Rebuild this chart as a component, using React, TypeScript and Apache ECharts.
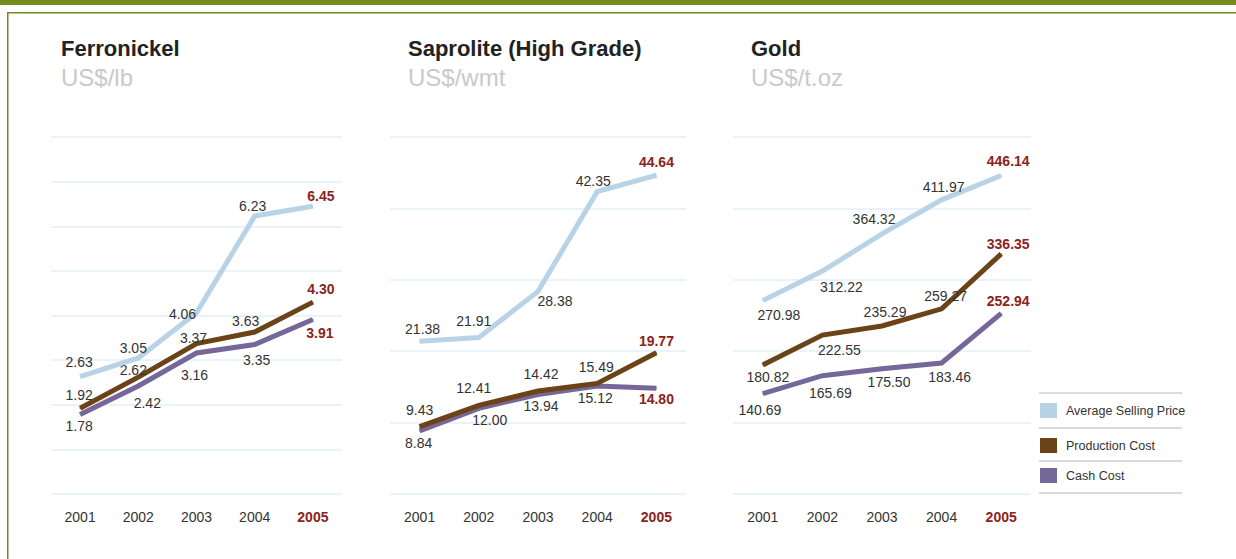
import React, { useEffect, useRef } from "react";
import * as echarts from "echarts";

const years = ["2001", "2002", "2003", "2004", "2005"];
const seriesNames = ["Average Selling Price", "Production Cost", "Cash Cost"];

const chartTitles = ["Ferronickel", "Saprolite (High Grade)", "Gold"];
const chartUnits = ["US$/lb", "US$/wmt", "US$/t.oz"];

// Ferronickel (US$/lb)
const feAsp = [2.63, 3.05, 4.06, 6.23, 6.45];
const feProd = [1.92, 2.62, 3.37, 3.63, 4.3];
const feCash = [1.78, 2.42, 3.16, 3.35, 3.91];

// Saprolite High Grade (US$/wmt)
const saAsp = [21.38, 21.91, 28.38, 42.35, 44.64];
const saProd = [9.43, 12.41, 14.42, 15.49, 19.77];
const saCash = [8.84, 12.0, 13.94, 15.12, 14.8];

// Gold (US$/t.oz)
const auAsp = [270.98, 312.22, 364.32, 411.97, 446.14];
const auProd = [180.82, 222.55, 235.29, 259.27, 336.35];
const auCash = [140.69, 165.69, 175.5, 183.46, 252.94];

// Axis ranges
const axisMax = [8, 50, 500];
const axisInterval = [1, 10, 100];

// Label placement (layout only): [dx, dy] from each point
const feOffsets = [
  [[-1, -15], [-5, -10], [-14, 1], [-2, -10], [8, -10]],
  [[-1, -13], [-5, -7], [-3, -6], [-9, -11], [8, -13]],
  [[-1, 11], [9, 17], [-2, 22], [2, 15], [7, 13]],
];
const saOffsets = [
  [[3, -12], [-5, -17], [17, 10], [-4, -11], [0, -13]],
  [[0, -17], [-5, -17], [3, -17], [-1, -16], [0, -12]],
  [[-1, 12], [11, 12], [3, 12], [-2, 12], [0, 11]],
];
const auOffsets = [
  [[16, 14], [19, 16], [-8, -15], [2, -13], [7, -14]],
  [[5, 12], [17, 15], [3, -14], [4, -13], [7, -10]],
  [[-3, 16], [8, 17], [7, 13], [8, 14], [7, -12]],
];

const COLORS = ["#b8d2e6", "#6b4317", "#75679a"];
const RED = "#8b2320";
const OLIVE = "#758a1f";
const FONT = "'Liberation Sans', Arial, sans-serif";

const grids = [
  { left: 51, top: 137, width: 291, height: 357 },
  { left: 390, top: 137, width: 296, height: 357 },
  { left: 733, top: 137, width: 298, height: 357 },
];
const titleX = [61, 408, 751];

export default function App() {
  const ref = useRef<HTMLDivElement>(null);
  useEffect(() => {
    if (!ref.current) return;
    const chart = echarts.init(ref.current, null, { renderer: "svg" });
    const datasets = [
      [feAsp, feProd, feCash],
      [saAsp, saProd, saCash],
      [auAsp, auProd, auCash],
    ];
    const offsets = [feOffsets, saOffsets, auOffsets];

    const series: any[] = [];
    datasets.forEach((group, gi) => {
      group.forEach((vals, si) => {
        series.push({
          type: "line",
          name: seriesNames[si],
          xAxisIndex: gi,
          yAxisIndex: gi,
          symbol: "circle",
          symbolSize: 1,
          lineStyle: { color: COLORS[si], width: 5, cap: "butt", join: "miter" },
          itemStyle: { color: COLORS[si] },
          z: 3 - si + 2,
          data: vals.map((v, i) => ({
            value: v,
            label: {
              show: true,
              position: "inside",
              offset: offsets[gi][si][i],
              formatter: v.toFixed(2),
              fontFamily: FONT,
              fontSize: 14,
              color: i === 4 ? RED : "#333",
              fontWeight: i === 4 ? "bold" : "normal",
            },
          })),
        });
      });
    });

    const graphic: any[] = [
      { type: "rect", shape: { x: 0, y: 0, width: 1236, height: 5 }, style: { fill: OLIVE } },
      { type: "rect", shape: { x: 7, y: 12, width: 1229, height: 1.5 }, style: { fill: OLIVE } },
      { type: "rect", shape: { x: 7, y: 12, width: 1.5, height: 547 }, style: { fill: OLIVE } },
    ];
    chartTitles.forEach((t, i) => {
      graphic.push({
        type: "text",
        x: titleX[i],
        y: 48,
        style: {
          text: t,
          fill: "#222",
          font: `bold 22px ${FONT}`,
          verticalAlign: "middle",
        },
      });
      graphic.push({
        type: "text",
        x: titleX[i],
        y: 77,
        style: {
          text: chartUnits[i],
          fill: "#c9c9ce",
          font: `24px ${FONT}`,
          verticalAlign: "middle",
        },
      });
    });
    // legend
    const legLines = [393, 428, 461, 493];
    legLines.forEach((y) =>
      graphic.push({
        type: "line",
        shape: { x1: 1039, y1: y, x2: 1182, y2: y },
        style: { stroke: "#cfcfcf", lineWidth: 1.5 },
      })
    );
    const legY = [411, 446, 476];
    seriesNames.forEach((n, i) => {
      graphic.push({
        type: "rect",
        shape: { x: 1040, y: legY[i] - 8, width: 17, height: 15 },
        style: { fill: COLORS[i] },
      });
      graphic.push({
        type: "text",
        x: 1066,
        y: legY[i],
        style: { text: n, fill: "#333", font: `12.5px ${FONT}`, verticalAlign: "middle" },
      });
    });

    chart.setOption({
      animation: false,
      backgroundColor: "#fff",
      grid: grids.map((g) => ({ ...g, containLabel: false })),
      xAxis: grids.map((_, i) => ({
        type: "category",
        gridIndex: i,
        data: years,
        boundaryGap: true,
        axisLine: { show: false },
        axisTick: { show: false },
        axisLabel: {
          interval: 0,
          margin: 16,
          fontFamily: FONT,
          fontSize: 14,
          color: "#333",
          formatter: (v: string) => (v === "2005" ? `{r|${v}}` : v),
          rich: { r: { color: RED, fontWeight: "bold", fontFamily: FONT, fontSize: 14 } },
        },
      })),
      yAxis: grids.map((_, i) => ({
        type: "value",
        gridIndex: i,
        min: 0,
        max: axisMax[i],
        interval: axisInterval[i],
        axisLine: { show: false },
        axisTick: { show: false },
        axisLabel: { show: false },
        splitLine: { lineStyle: { color: "#e3eef8", width: 1.5 } },
      })),
      series,
      graphic,
    });
    return () => chart.dispose();
  }, []);
  return (
    <div
      ref={ref}
      style={{ position: "fixed", left: 0, top: 0, width: 1236, height: 559 }}
    />
  );
}
